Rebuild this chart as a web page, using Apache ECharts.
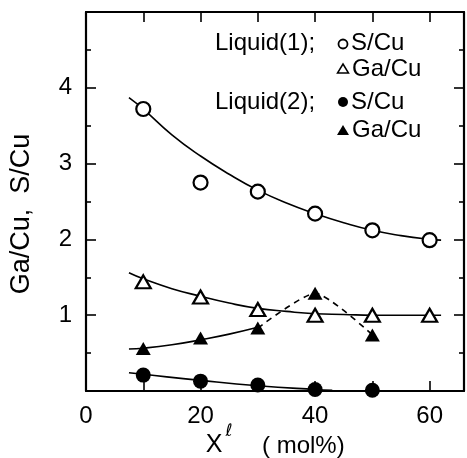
<!DOCTYPE html>
<html>
<head>
<meta charset="utf-8">
<script src="https://cdn.jsdelivr.net/npm/echarts@6/dist/echarts.min.js"></script>
<style>html,body{margin:0;padding:0;background:#fff}#c{width:467px;height:458px}</style>
</head>
<body>
<div id="c"></div>
<script>
// ---- data ----
const xLabels = [0, 20, 40, 60];
const yLabels = [1, 2, 3, 4];

const liq1X = [10, 20, 30, 40, 50, 60];
const liq1S = [3.72, 2.75, 2.63, 2.34, 2.12, 1.99];
const liq1Ga = [1.44, 1.24, 1.075, 1.0, 1.0, 1.0];

const liq2X = [10, 20, 30, 40, 50];
const liq2S = [0.21, 0.13, 0.08, 0.02, 0.01];
const liq2Ga = [0.56, 0.70, 0.83, 1.29, 0.74];

// fitted guide curves
const fit1SX = [7.5, 10, 15, 20, 25, 30, 35, 40, 45, 50, 55, 60, 62];
const fit1SY = [3.87, 3.72, 3.38, 3.10, 2.86, 2.65, 2.48, 2.34, 2.22, 2.12, 2.05, 2.0, 1.99];
const fit1GaX = [7.5, 10, 15, 20, 25, 30, 35, 40, 45, 50, 55, 62];
const fit1GaY = [1.56, 1.48, 1.35, 1.25, 1.16, 1.09, 1.05, 1.02, 1.01, 1.0, 1.0, 1.0];
const fit2SX = [7.5, 10, 20, 30, 40, 43];
const fit2SY = [0.24, 0.22, 0.14, 0.07, 0.02, 0.01];
const fit2GaX = [7.5, 10, 15, 20, 25, 30];
const fit2GaY = [0.555, 0.565, 0.61, 0.675, 0.75, 0.84];
const dash2GaX = [30, 40, 50];
const dash2GaY = [0.83, 1.29, 0.74];

const zip = (xs, ys) => xs.map((x, i) => [x, ys[i]]);

const FONT = '"Liberation Sans", Arial, Helvetica, sans-serif';
const chart = echarts.init(document.getElementById('c'));

const axisCommon = {
  z: 1,
  axisLine: { show: true, onZero: false, lineStyle: { color: '#000', width: 2.2 } },
  axisTick: { show: true, inside: true, length: 10, lineStyle: { color: '#000', width: 1.6 } },
  splitLine: { show: false }
};

function curve(xs, ys, dashed, smooth) {
  return {
    type: 'line', data: zip(xs, ys), showSymbol: false, symbol: 'none',
    smooth: smooth, z: 2, silent: true,
    lineStyle: { color: '#000', width: 1.6, opacity: 1, type: dashed ? [6, 5] : 'solid' }
  };
}

function pts(xs, ys, symbol, filled) {
  let size;
  if (symbol === 'triangle') size = [15, 13];
  else size = filled ? 15 : 14;
  return {
    type: 'scatter', data: zip(xs, ys), symbol: symbol,
    symbolSize: size, z: 5,
    itemStyle: { color: filled ? '#000' : '#fff', borderColor: '#000', borderWidth: filled ? 0 : 2.2, opacity: 1 }
  };
}

chart.setOption({
  animation: false,
  backgroundColor: '#fff',
  grid: { left: 86, right: 3, top: 12, bottom: 67, containLabel: false },
  xAxis: [
    Object.assign({}, axisCommon, {
      type: 'value', position: 'bottom', min: 0, max: 66, interval: 10,
      axisLabel: {
        show: true, margin: 13, color: '#000', fontSize: 24, fontFamily: FONT,
        showMaxLabel: false,
        formatter: v => xLabels.includes(v) ? String(v) : ''
      }
    }),
    Object.assign({}, axisCommon, {
      type: 'value', position: 'top', min: 0, max: 66, interval: 10,
      axisLabel: { show: false }
    })
  ],
  yAxis: [
    Object.assign({}, axisCommon, {
      type: 'value', position: 'left', min: 0, max: 5, interval: 1,
      minorTick: { show: true, splitNumber: 2, length: 5, lineStyle: { color: '#000', width: 1.6 } },
      axisLabel: {
        show: true, margin: 14, color: '#000', fontSize: 24, fontFamily: FONT,
        formatter: v => yLabels.includes(v) ? String(v) : ''
      }
    }),
    Object.assign({}, axisCommon, {
      type: 'value', position: 'right', min: 0, max: 5, interval: 1,
      minorTick: { show: true, splitNumber: 2, length: 5, lineStyle: { color: '#000', width: 1.6 } },
      axisLabel: { show: false }
    })
  ],
  series: [
    curve(fit1SX, fit1SY, false, true),
    curve(fit1GaX, fit1GaY, false, true),
    curve(fit2SX, fit2SY, false, true),
    curve(fit2GaX, fit2GaY, false, true),
    curve(dash2GaX, dash2GaY, true, 0.2),
    pts(liq1X, liq1S, 'circle', false),
    pts(liq1X, liq1Ga, 'triangle', false),
    pts(liq2X, liq2S, 'circle', true),
    pts(liq2X, liq2Ga, 'triangle', true)
  ],
  graphic: [
    // y-axis title
    { type: 'text', x: 22, y: 214, rotation: Math.PI / 2,
      style: { text: 'Ga/Cu,  S/Cu', font: '27px ' + FONT, fill: '#000', textAlign: 'center', textVerticalAlign: 'middle' } },
    // x-axis title
    { type: 'text', x: 214, y: 445,
      style: { text: 'X', font: '25px ' + FONT, fill: '#000', textAlign: 'center', textVerticalAlign: 'middle' } },
    { type: 'text', x: 229, y: 432,
      style: { text: 'ℓ', font: 'italic 17px "DejaVu Sans", sans-serif', fill: '#000', textAlign: 'center', textVerticalAlign: 'middle' } },
    { type: 'text', x: 262, y: 446,
      style: { text: '( mol%)', font: '24px ' + FONT, fill: '#000', textAlign: 'left', textVerticalAlign: 'middle' } },
    // legend texts
    { type: 'text', x: 215, y: 43,
      style: { text: 'Liquid(1);', font: '24px ' + FONT, fill: '#000', textAlign: 'left', textVerticalAlign: 'middle' } },
    { type: 'text', x: 351, y: 43,
      style: { text: 'S/Cu', font: '24px ' + FONT, fill: '#000', textAlign: 'left', textVerticalAlign: 'middle' } },
    { type: 'text', x: 352, y: 69,
      style: { text: 'Ga/Cu', font: '24px ' + FONT, fill: '#000', textAlign: 'left', textVerticalAlign: 'middle' } },
    { type: 'text', x: 215, y: 102,
      style: { text: 'Liquid(2);', font: '24px ' + FONT, fill: '#000', textAlign: 'left', textVerticalAlign: 'middle' } },
    { type: 'text', x: 351, y: 102,
      style: { text: 'S/Cu', font: '24px ' + FONT, fill: '#000', textAlign: 'left', textVerticalAlign: 'middle' } },
    { type: 'text', x: 352, y: 130,
      style: { text: 'Ga/Cu', font: '24px ' + FONT, fill: '#000', textAlign: 'left', textVerticalAlign: 'middle' } },
    // legend markers
    { type: 'circle', shape: { cx: 343, cy: 44, r: 4.5 }, style: { fill: '#fff', stroke: '#000', lineWidth: 1.8 } },
    { type: 'polygon', shape: { points: [[343, 64], [348.5, 73], [337.5, 73]] }, style: { fill: '#fff', stroke: '#000', lineWidth: 1.5 } },
    { type: 'circle', shape: { cx: 343, cy: 102, r: 5 }, style: { fill: '#000' } },
    { type: 'polygon', shape: { points: [[343, 125], [349, 135], [337, 135]] }, style: { fill: '#000' } }
  ]
});
</script>
</body>
</html>
